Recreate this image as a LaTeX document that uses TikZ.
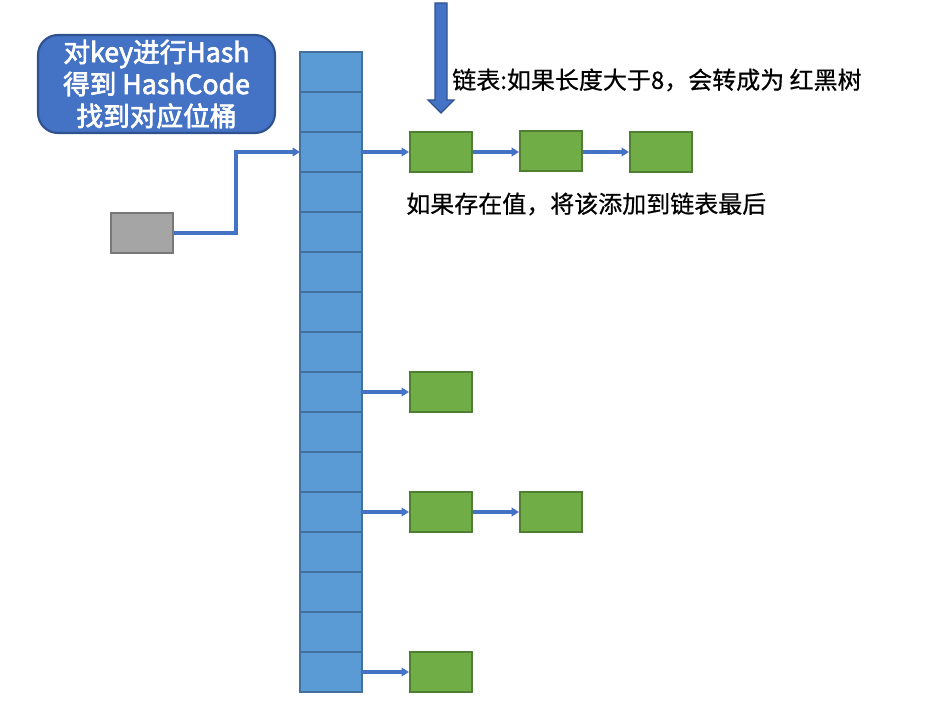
\documentclass[tikz,border=0pt]{standalone}
\usepackage{fontspec}
\setmainfont{Noto Sans CJK SC}
\newfontfamily\cjkbold{Noto Sans CJK SC}[FakeBold=2.5]
\newfontfamily\cjkmed{Noto Sans CJK SC}[FakeBold=0.6]
\usetikzlibrary{arrows.meta}
\definecolor{arrblue}{HTML}{5B9BD5}
\definecolor{arredge}{HTML}{41719C}
\definecolor{lnkblue}{HTML}{4472C4}
\definecolor{boxedge}{HTML}{2F528F}
\definecolor{grn}{HTML}{70AD47}
\definecolor{grnedge}{HTML}{507E32}
\definecolor{gry}{HTML}{A5A5A5}
\definecolor{gryedge}{HTML}{787878}
\tikzset{
  cellbox/.style={draw=arredge, fill=arrblue, line width=1.6pt, minimum width=62*0.75pt, minimum height=40*0.75pt, inner sep=0pt, outer sep=0pt, anchor=north west},
  nodebox/.style={draw=grnedge, fill=grn, line width=1.6pt, minimum width=62*0.75pt, minimum height=40*0.75pt, inner sep=0pt},
  keybox/.style={draw=gryedge, fill=gry, line width=1.6pt, minimum width=62*0.75pt, minimum height=40*0.75pt, inner sep=0pt},
  link/.style={draw=lnkblue, line width=2.4pt, -{Triangle[length=5.5pt,width=6.5pt]}},
  lbl/.style={font=\cjkmed\fontsize{18pt}{22pt}\selectfont, anchor=west, inner sep=0pt}
}
\begin{document}
\begin{tikzpicture}[x=0.75pt,y=-0.75pt]
\useasboundingbox (0,0) rectangle (925,710);
% hash box
\node[draw=boxedge, fill=lnkblue, line width=1.6pt, rounded corners=15pt, minimum width=237*0.75pt, minimum height=98*0.75pt, text=white, align=center, font=\cjkbold\fontsize{20pt}{24pt}\selectfont, inner sep=0pt] (hash) at (156.5,84) {对key进行Hash\\得到 HashCode\\找到对应位桶};
% array
\foreach \i in {0,...,15} {
  \node[cellbox] (c\i) at (300,{52+40*\i}) {};
}
% top big arrow
\filldraw[fill=lnkblue, draw=boxedge, line width=1pt] (435,3) -- (447,3) -- (447,100) -- (454,100) -- (441,113) -- (428,100) -- (435,100) -- cycle;
% labels
\node[lbl] (t1) at (452,80) {链表:如果长度大于8，会转成为 红黑树};
\node[lbl] (t2) at (406,204) {如果存在值，将该添加到链表最后};
% gray key
\node[keybox] (key) at (142,233) {};
\coordinate (bend1) at (236,233);
\coordinate (bend2) at (236,152);
\draw[link] (key.east) -- (bend1) -- (bend2) -- (c2.west);
% linked nodes
\node[nodebox] (n1) at (441,152) {};
\node[nodebox] (n2) at (551,151) {};
\node[nodebox] (n3) at (661,152) {};
\node[nodebox] (m1) at (441,392) {};
\node[nodebox] (p1) at (441,512) {};
\node[nodebox] (p2) at (551,512) {};
\node[nodebox] (q1) at (441,672) {};
\draw[link] (c2.east) -- (n1.west);
\draw[link] (n1.east) -- (n2.west|-n1.east);
\draw[link] (n2.east|-n1.east) -- (n3.west);
\draw[link] (c8.east) -- (m1.west);
\draw[link] (c11.east) -- (p1.west);
\draw[link] (p1.east) -- (p2.west);
\draw[link] (c15.east) -- (q1.west);
\end{tikzpicture}
\end{document}
